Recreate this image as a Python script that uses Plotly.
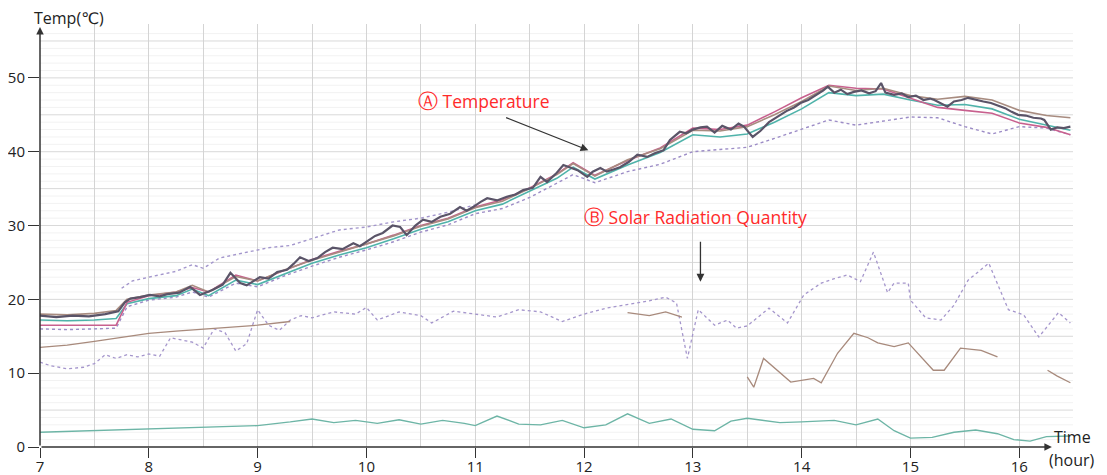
import plotly.graph_objects as go

# ---------------- data ----------------
# main (dark) temperature trace, dense
DARK_TIME = [7.0, 7.15, 7.3, 7.45, 7.6, 7.72, 7.78, 7.83, 7.92, 8.01, 8.1, 8.17, 8.28, 8.38, 8.47,
             8.59, 8.68, 8.75, 8.84, 8.9, 9.02, 9.1, 9.18, 9.27, 9.33, 9.39, 9.47, 9.55, 9.62,
             9.69, 9.78, 9.88, 9.94, 10.0, 10.08, 10.15, 10.24, 10.31, 10.37, 10.45, 10.52,
             10.6, 10.68, 10.77, 10.86, 10.92, 10.98, 11.05, 11.11, 11.2, 11.29, 11.37, 11.44,
             11.53, 11.6, 11.66, 11.74, 11.81, 11.87, 11.94, 12.03, 12.08, 12.15, 12.21, 12.27,
             12.33, 12.41, 12.49, 12.58, 12.65, 12.73, 12.79, 12.88, 12.94, 13.0, 13.07, 13.13,
             13.2, 13.27, 13.35, 13.42, 13.47, 13.55, 13.62, 13.7, 13.78, 13.86, 13.93, 13.99,
             14.06, 14.13, 14.2, 14.24, 14.3, 14.36, 14.42, 14.48, 14.55, 14.62, 14.68, 14.73,
             14.77, 14.85, 14.92, 14.98, 15.05, 15.12, 15.18, 15.22, 15.28, 15.34, 15.4, 15.47,
             15.53, 15.6, 15.67, 15.74, 15.8, 15.87, 15.93, 15.99, 16.06, 16.13, 16.2, 16.23,
             16.29, 16.35, 16.41, 16.47]
TEMP_DARK = [17.8, 17.6, 17.8, 17.7, 18.0, 18.4, 19.6, 20.1, 20.3, 20.6, 20.4, 20.7, 20.9, 21.7, 20.6,
             21.3, 22.0, 23.6, 22.2, 21.9, 23.0, 22.8, 23.7, 24.0, 24.8, 25.7, 25.2, 25.6, 26.4,
             27.0, 26.8, 27.6, 27.2, 27.8, 28.6, 29.0, 30.0, 29.8, 28.7, 30.0, 30.8,
             30.5, 31.2, 31.6, 32.5, 32.0, 32.5, 33.2, 33.7, 33.4, 33.9, 34.2, 34.8,
             35.1, 36.6, 35.9, 37.0, 38.2, 37.9, 37.5, 36.6, 37.3, 37.8, 37.3, 37.6,
             37.9, 38.6, 39.6, 39.3, 39.8, 40.2, 41.6, 42.7, 42.5, 43.0, 43.3, 43.4,
             42.6, 43.5, 43.0, 43.8, 43.4, 42.0, 42.8, 44.0, 44.8, 45.5, 46.0, 46.6,
             47.0, 47.6, 48.3, 48.8, 48.0, 48.4, 47.8, 48.1, 48.3, 47.9, 48.2, 49.3,
             48.0, 47.7, 47.9, 47.4, 47.6, 47.0, 47.2, 47.0, 46.6, 46.1, 46.8, 47.0,
             47.3, 47.0, 46.8, 46.6, 46.3, 45.9, 45.4, 45.0, 44.9, 44.6, 44.5, 44.3,
             43.0, 43.3, 43.2, 43.4]

# other temperature traces (coarser)
T_TIME = [7.0, 7.25, 7.5, 7.7, 7.8, 8.0, 8.25, 8.4, 8.55, 8.8, 9.0, 9.25, 9.5, 9.75, 10.0,
          10.25, 10.5, 10.75, 11.0, 11.25, 11.5, 11.75, 11.9, 12.1, 12.4, 12.7, 13.0, 13.25,
          13.5, 13.75, 14.0, 14.25, 14.5, 14.75, 15.0, 15.25, 15.5, 15.75, 16.0, 16.25, 16.47]
TEMP_PINK = [16.5, 16.5, 16.4, 16.5, 19.6, 20.5, 21.0, 21.6, 21.0, 23.3, 22.5, 24.0, 25.4, 26.5, 27.5,
             28.7, 30.0, 31.0, 32.5, 33.5, 35.1, 37.0, 38.5, 36.8, 38.8, 40.5, 43.2, 43.0,
             43.6, 45.4, 47.3, 49.0, 48.6, 48.5, 47.2, 46.0, 45.6, 45.2, 43.9, 43.3, 42.3]
TEMP_TEAL = [17.2, 17.1, 17.2, 17.4, 19.4, 20.1, 20.5, 21.4, 20.5, 22.6, 22.0, 23.5, 24.9, 26.0, 27.0,
             28.2, 29.5, 30.5, 32.0, 32.9, 34.6, 36.4, 37.9, 36.3, 38.2, 39.9, 42.3, 42.0,
             42.4, 44.0, 45.8, 48.0, 47.6, 47.8, 47.0, 46.3, 46.4, 45.8, 44.4, 43.6, 42.9]
TEMP_BROWN = [18.0, 17.9, 18.1, 18.5, 20.0, 20.6, 21.0, 21.9, 21.0, 23.1, 22.5, 24.0, 25.3, 26.4, 27.4,
              28.6, 29.9, 30.9, 32.4, 33.3, 35.0, 36.9, 38.4, 36.7, 38.9, 40.4, 42.9, 42.8,
              43.4, 45.0, 46.8, 48.9, 48.3, 48.6, 47.6, 47.1, 47.5, 47.0, 45.6, 44.9, 44.6]
TEMP_LOW = [16.0, 15.9, 16.0, 16.1, 19.0, 19.9, 20.3, 21.0, 20.3, 22.2, 21.7, 23.2, 24.5, 25.7, 26.7,
            27.8, 29.1, 30.1, 31.6, 32.3, 33.8, 35.7, 36.9, 35.8, 37.3, 38.3, 40.0, 40.3,
            40.6, 41.8, 43.0, 44.3, 43.6, 44.2, 44.7, 44.6, 43.4, 42.4, 43.4, 43.2, 42.3]

UP_TIME = [7.75, 7.85, 8.0, 8.25, 8.4, 8.5, 8.65, 8.9, 9.1, 9.3, 9.55, 9.75, 10.0, 10.25, 10.5,
           10.75, 11.0]
TEMP_UP = [21.5, 22.5, 23.0, 23.8, 24.7, 24.2, 25.6, 26.4, 27.0, 27.3, 28.5, 29.4, 29.8, 30.5, 31.0,
           31.8, 32.8]

# solar radiation traces
SOL_TIME = [7.0, 7.1, 7.25, 7.4, 7.5, 7.6, 7.7, 7.8, 7.9, 8.0, 8.1, 8.2, 8.3, 8.4, 8.5, 8.6, 8.7,
            8.8, 8.9, 9.0, 9.1, 9.2, 9.3, 9.4, 9.5, 9.7, 9.9, 10.0, 10.1, 10.3, 10.5, 10.6, 10.8,
            11.0, 11.2, 11.4, 11.6, 11.8, 12.0, 12.2, 12.4, 12.6, 12.75, 12.85, 12.95, 13.05,
            13.2, 13.32, 13.4, 13.5, 13.7, 13.87, 14.02, 14.18, 14.3, 14.42, 14.54, 14.66,
            14.79, 14.85, 14.98, 15.0, 15.14, 15.28, 15.4, 15.53, 15.72, 15.9, 16.04, 16.18,
            16.36, 16.47]
SOL_PURPLE = [11.5, 11.0, 10.6, 10.8, 11.3, 12.5, 12.0, 12.5, 12.2, 12.6, 12.3, 14.8, 14.5, 14.2,
              13.4, 16.0, 15.5, 13.0, 14.0, 18.6, 16.5, 15.8, 17.2, 17.8, 17.5, 18.3, 18.0, 18.9,
              17.2, 18.3, 17.8, 16.8, 18.4, 18.0, 17.6, 18.6, 18.3, 17.0, 18.0, 18.8, 19.3, 19.8,
              20.3, 19.5, 12.0, 18.6, 16.5, 17.2, 16.1, 16.4, 18.8, 16.8, 20.6, 22.2, 22.8, 23.3,
              22.4, 26.4, 20.9, 22.2, 22.2, 19.9, 17.5, 17.2, 19.2, 22.6, 24.9, 18.6, 17.9, 14.9,
              18.2, 16.8]

SOL2_TIME = [7.0, 7.25, 7.5, 7.75, 8.0, 8.25, 8.5, 8.75, 9.0, 9.3, 9.31,
             12.4, 12.6, 12.75, 12.9, 12.91,
             13.5, 13.56, 13.65, 13.74, 13.9, 14.11, 14.18, 14.33, 14.48, 14.61, 14.7, 14.85,
             14.98, 15.21, 15.31, 15.46, 15.65, 15.8, 15.81, 16.26, 16.35, 16.47]
SOL_BROWN = [13.5, 13.8, 14.3, 14.8, 15.4, 15.7, 16.0, 16.3, 16.5, 17.0, None,
             18.2, 17.8, 18.3, 17.6, None,
             9.5, 8.1, 12.0, 10.8, 8.8, 9.3, 8.7, 12.7, 15.4, 14.8, 14.1, 13.6,
             14.1, 10.4, 10.4, 13.4, 13.1, 12.2, None, 10.4, 9.6, 8.7]

LOW_TIME = [7.0, 7.5, 8.0, 8.5, 9.0, 9.3, 9.5, 9.7, 9.9, 10.1, 10.3, 10.5, 10.7, 10.9, 11.0,
            11.2, 11.4, 11.6, 11.8, 12.0, 12.2, 12.4, 12.6, 12.8, 13.0, 13.2, 13.35, 13.5, 13.8,
            14.0, 14.3, 14.5, 14.7, 14.85, 15.0, 15.2, 15.4, 15.6, 15.8, 15.95, 16.1, 16.25, 16.47]
SOL_TEAL = [2.0, 2.2, 2.4, 2.6, 2.9, 3.4, 3.8, 3.3, 3.6, 3.2, 3.7, 3.1, 3.6, 3.2, 2.9,
            4.2, 3.1, 3.0, 3.6, 2.6, 3.0, 4.5, 3.2, 3.8, 2.4, 2.2, 3.5, 3.9, 3.3,
            3.4, 3.6, 3.0, 3.8, 2.2, 1.2, 1.3, 2.0, 2.3, 1.8, 1.0, 0.8, 1.4, 1.5]

X_TICKS = [7, 8, 9, 10, 11, 12, 13, 14, 15, 16]
Y_TICKS = [0, 10, 20, 30, 40, 50]

# ---------------- figure ----------------
fig = go.Figure()

def add(x, y, color, width=1.4, dash="solid"):
    fig.add_trace(go.Scatter(x=x, y=y, mode="lines", connectgaps=False,
                             line=dict(color=color, width=width, dash=dash),
                             hoverinfo="skip", showlegend=False))

# solar radiation
add(SOL_TIME, SOL_PURPLE, "#a596cc", 1.3, "dot")
add(SOL2_TIME, SOL_BROWN, "#a88a7c", 1.3)
add(LOW_TIME, SOL_TEAL, "#6db5a6", 1.4)
# temperature
add(UP_TIME, TEMP_UP, "#a396cc", 1.4, "dot")
add(T_TIME, TEMP_LOW, "#9c8cc6", 1.4, "dot")
add(T_TIME, TEMP_TEAL, "#4fb3aa", 1.6)
add(T_TIME, TEMP_PINK, "#c8608e", 1.6)
add(T_TIME, TEMP_BROWN, "#a88c80", 1.6)
add(DARK_TIME, TEMP_DARK, "#5a5468", 2.2)

# faint 1-unit horizontal lines and 5-unit grid lines (styling)
shapes = []
for v in range(1, 57):
    col = "#d9d9d9" if v % 5 == 0 else "#f2f2f2"
    shapes.append(dict(type="line", xref="paper", yref="y", x0=0, x1=1, y0=v, y1=v,
                       line=dict(color=col, width=1), layer="below"))

FONT = "Open Sans, DejaVu Sans, sans-serif"

# the page body adds an 8px offset, so the figure is sized to the remaining area
fig.update_layout(
    width=1099, height=467,
    margin=dict(l=32, r=34, t=16, b=28, autoexpand=False),
    paper_bgcolor="white", plot_bgcolor="white",
    font=dict(family=FONT, size=15, color="#222"),
    shapes=shapes,
    xaxis=dict(range=[7, 16.494], tickvals=X_TICKS, ticks="outside", ticklen=10,
               tickcolor="#333", tickwidth=1.3, showline=False, zeroline=False,
               automargin=False, ticklabelstandoff=-4,
               showgrid=True, gridcolor="#d4d4d4", gridwidth=1,
               minor=dict(dtick=0.5, tick0=7, showgrid=True, gridcolor="#d4d4d4", ticks=""),
               tickfont=dict(size=15, color="#222")),
    yaxis=dict(range=[0, 57.3], tickvals=Y_TICKS, ticks="outside", ticklen=11,
               tickcolor="#333", tickwidth=1.3, showline=False, zeroline=False,
               automargin=False, showgrid=False, tickfont=dict(size=15, color="#222")),
)

# axis lines with arrow heads
fig.add_annotation(x=16.30, y=0, ax=7, ay=0, xref="x", yref="y", axref="x", ayref="y",
                   text="", showarrow=True, arrowhead=2, arrowsize=1, arrowwidth=1.5,
                   arrowcolor="#333")
fig.add_annotation(x=7, y=56.9, ax=7, ay=0, xref="x", yref="y", axref="x", ayref="y",
                   text="", showarrow=True, arrowhead=2, arrowsize=1, arrowwidth=1.5,
                   arrowcolor="#333")

# axis titles
fig.add_annotation(x=-0.008, y=1.0135, xref="paper", yref="paper", xanchor="left",
                   yanchor="middle", text="Temp(℃)", showarrow=False,
                   font=dict(size=16, color="#222"))
fig.add_annotation(x=0.9995, y=0.024, xref="paper", yref="paper", xanchor="center",
                   yanchor="middle", text="Time", showarrow=False,
                   font=dict(size=16, color="#222"))
fig.add_annotation(x=0.9995, y=-0.031, xref="paper", yref="paper", xanchor="center",
                   yanchor="middle", text="(hour)", showarrow=False,
                   font=dict(size=16, color="#222"))

# red labels with arrows
fig.add_annotation(x=10.46, y=46.9, xref="x", yref="y", xanchor="left", yanchor="middle",
                   text="<span style='font-size:20px'>Ⓐ</span> Temperature", showarrow=False,
                   font=dict(size=17.5, color="#ff2a2a"))
fig.add_annotation(x=12.04, y=40.2, ax=11.27, ay=44.7, xref="x", yref="y", axref="x",
                   ayref="y", text="", showarrow=True, arrowhead=2, arrowsize=1.2,
                   arrowwidth=1.3, arrowcolor="#333")
fig.add_annotation(x=11.98, y=31.2, xref="x", yref="y", xanchor="left", yanchor="middle",
                   text="<span style='font-size:20px'>Ⓑ</span> Solar Radiation Quantity",
                   showarrow=False, font=dict(size=17.5, color="#ff2a2a"))
fig.add_annotation(x=13.07, y=22.4, ax=13.07, ay=28.0, xref="x", yref="y", axref="x",
                   ayref="y", text="", showarrow=True, arrowhead=2, arrowsize=1.2,
                   arrowwidth=1.3, arrowcolor="#333")

fig.write_html("out.html")
